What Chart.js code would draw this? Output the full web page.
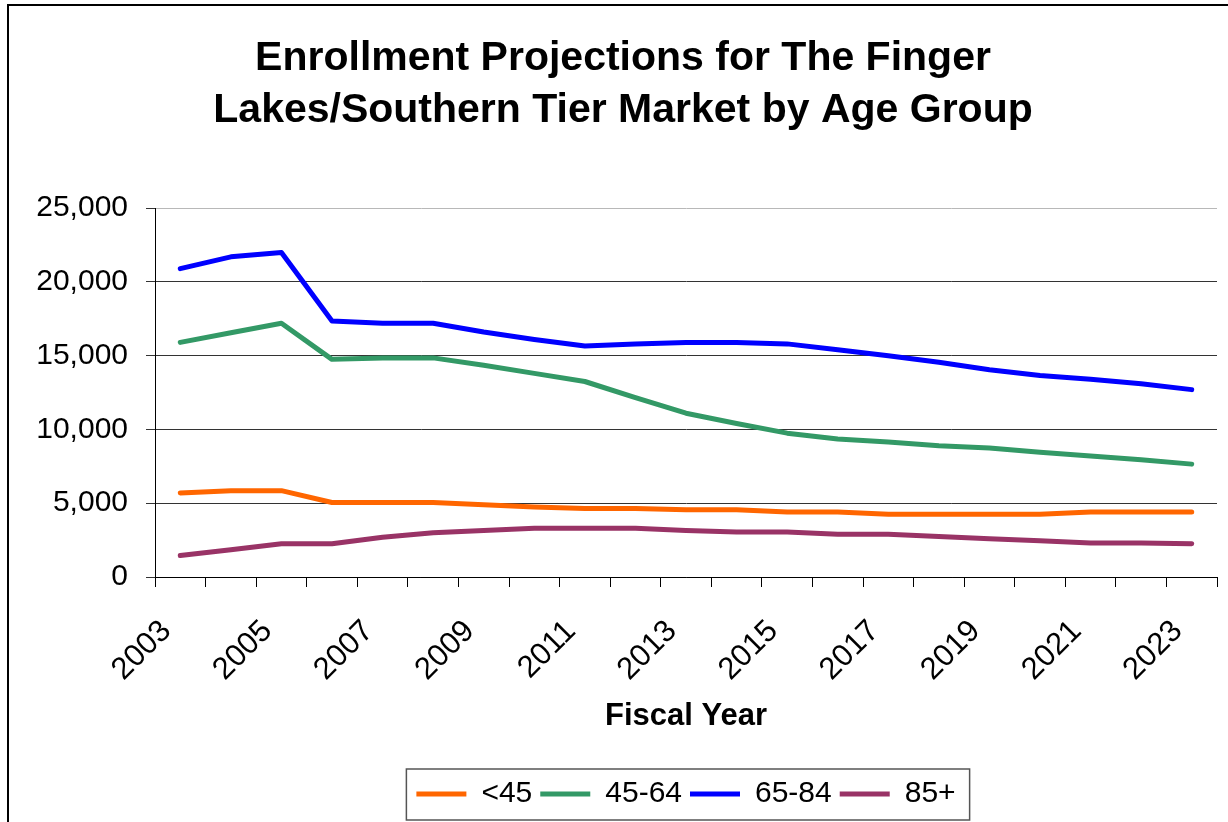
<!DOCTYPE html>
<html>
<head>
<title>Enrollment Projections</title>
<style>
body {
	margin: 0;
	background: white;
}
#wrap {
	width: 1228px;
	height: 822px;
}
</style>
</head>
<body>
<div id="wrap">
	<canvas id="chart" width="1228" height="822"></canvas>
</div>
<script src="https://cdn.jsdelivr.net/npm/chart.js@4"></script>
<script>
// fiscal years on the x axis
var years = ['2003','2004','2005','2006','2007','2008','2009','2010','2011','2012','2013',
	'2014','2015','2016','2017','2018','2019','2020','2021','2022','2023'];

// enrollment by age group
var under45 = [5700,5850,5850,5050,5050,5050,4900,4750,4650,4650,4550,
	4550,4400,4400,4250,4250,4250,4250,4400,4400,4400];
var age45to64 = [15900,16550,17200,14750,14850,14850,14350,13800,13250,12150,11100,
	10400,9750,9350,9150,8900,8750,8450,8200,7950,7650];
var age65to84 = [20900,21700,22000,17350,17200,17200,16600,16100,15650,15800,15900,
	15900,15800,15400,15000,14550,14050,13650,13400,13100,12700];
var age85plus = [1450,1850,2250,2250,2700,3000,3150,3300,3300,3300,3150,
	3050,3050,2900,2900,2750,2600,2450,2300,2300,2250];

var seriesNames = ['<45','45-64','65-84','85+'];
var seriesColors = ['#FF6600','#339966','#0000FF','#993366'];

var yMax = 25000;
var yStep = 5000;

var FONT = "'Liberation Sans', Arial, sans-serif";

function makeSet(i, values) {
	return {
		label: seriesNames[i],
		data: values,
		borderColor: seriesColors[i],
		backgroundColor: seriesColors[i],
		borderWidth: 5,
		borderCapStyle: 'round',
		borderJoinStyle: 'round',
		pointRadius: 0,
		pointHoverRadius: 0,
		tension: 0,
		fill: false
	};
}

// white page with the black frame of the original picture
var framePlugin = {
	id: 'frame',
	beforeDraw: function(chart) {
		var ctx = chart.ctx;
		ctx.save();
		ctx.fillStyle = 'white';
		ctx.fillRect(0, 0, chart.width, chart.height);
		ctx.strokeStyle = '#000';
		ctx.lineWidth = 2;
		ctx.beginPath();
		ctx.moveTo(8, chart.height);
		ctx.lineTo(8, 5);
		ctx.lineTo(chart.width, 5);
		ctx.stroke();
		ctx.restore();
	},
	//box round the legend
	afterDraw: function(chart) {
		var boxes = chart.legend.legendHitBoxes;
		if (!boxes || !boxes.length) return;
		var first = boxes[0];
		var last = boxes[boxes.length - 1];
		var mid = first.top + first.height / 2;
		var ctx = chart.ctx;
		ctx.save();
		ctx.strokeStyle = '#555';
		ctx.lineWidth = 1.5;
		var x0 = first.left - 10;
		var x1 = last.left + last.width + 14;
		var y0 = mid - 25;
		var y1 = mid + 26;
		ctx.strokeRect(x0, y0, x1 - x0, y1 - y0);
		ctx.restore();
	}
};

var ctx = document.getElementById('chart').getContext('2d');
var myChart = new Chart(ctx, {
	type: 'line',
	data: {
		labels: years,
		datasets: [
			makeSet(0, under45),
			makeSet(1, age45to64),
			makeSet(2, age65to84),
			makeSet(3, age85plus)
		]
	},
	options: {
		responsive: false,
		animation: false,
		devicePixelRatio: 1,
		layout: {
			padding: { left: 29, right: 11, top: 0, bottom: 3 }
		},
		plugins: {
			tooltip: { enabled: false },
			title: {
				display: true,
				text: ['Enrollment Projections for The Finger', 'Lakes/Southern Tier Market by Age Group'],
				color: '#000',
				font: { family: FONT, size: 41, weight: 'bold', lineHeight: 1.27 },
				padding: { top: 33, bottom: 71 }
			},
			legend: {
				position: 'bottom',
				fullSize: false,
				labels: {
					usePointStyle: true,
					pointStyle: 'line',
					pointStyleWidth: 50,
					boxHeight: 30,
					padding: 8,
					color: '#000',
					font: { family: FONT, size: 30 }
				}
			}
		},
		scales: {
			x: {
				offset: true,
				grid: {
					display: true,
					offset: true,
					drawOnChartArea: false,
					drawTicks: true,
					tickLength: 10,
					color: '#000'
				},
				border: { display: true, color: '#000', width: 1 },
				ticks: {
					autoSkip: false,
					maxRotation: 45,
					minRotation: 45,
					padding: 26,
					labelOffset: -14,
					color: '#000',
					font: { family: FONT, size: 31 },
					callback: function(value, index) {
						//only every other year gets a label
						return index % 2 == 0 ? years[index] : '';
					}
				},
				title: {
					display: true,
					text: 'Fiscal Year',
					color: '#000',
					font: { family: FONT, size: 31, weight: 'bold' },
					padding: { top: 0, bottom: 36 }
				},
				afterFit: function(scale) {
					scale.height = 194;
					//no extra room for the rotated end labels
					scale.paddingLeft = 0;
					scale.paddingRight = 0;
				}
			},
			y: {
				min: 0,
				max: yMax,
				grid: {
					color: function(c) {
						return c.tick && c.tick.value == yMax ? '#b8b8b8' : '#333';
					},
					lineWidth: 1,
					drawTicks: true,
					tickLength: 9,
					tickColor: '#333'
				},
				border: { display: true, color: '#000', width: 1 },
				ticks: {
					stepSize: yStep,
					padding: 18,
					color: '#000',
					font: { family: FONT, size: 30 },
					callback: function(v) {
						return v.toLocaleString('en-US');
					}
				},
				afterFit: function(scale) {
					scale.width = 126;
				}
			}
		}
	},
	plugins: [framePlugin]
});
</script>
</body>
</html>
